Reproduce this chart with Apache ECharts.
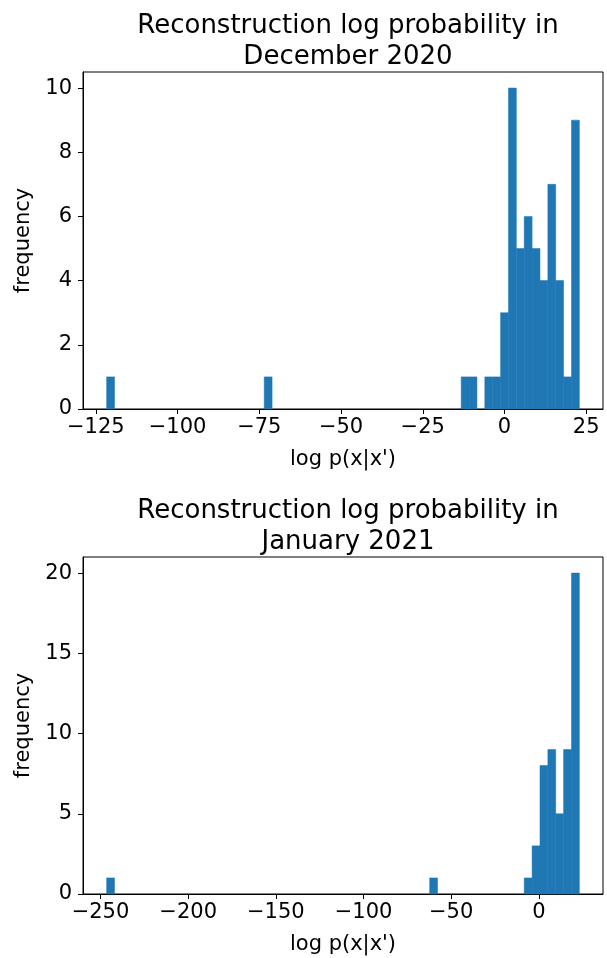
<!DOCTYPE html>
<html>
<head>
<meta charset="utf-8">
<script src="https://cdn.jsdelivr.net/npm/echarts@6/dist/echarts.min.js"></script>
<style>
html,body{margin:0;padding:0;background:#fff;}
#chart{width:607px;height:958px;}
</style>
</head>
<body>
<div id="chart"></div>
<script>
// ---- Data ----
// December 2020 histogram: 60 equal bins between decMin and decMax
const decMin = -121.7;
const decMax = 22.9;
const decCounts = [
  1,0,0,0,0,0,0,0,0,0,
  0,0,0,0,0,0,0,0,0,0,
  1,0,0,0,0,0,0,0,0,0,
  0,0,0,0,0,0,0,0,0,0,
  0,0,0,0,0,1,1,0,1,1,
  3,10,5,6,5,4,7,4,1,9
];
// January 2021 histogram: 60 equal bins between janMin and janMax
const janMin = -246.5;
const janMax = 23.1;
const janCounts = [
  1,0,0,0,0,0,0,0,0,0,
  0,0,0,0,0,0,0,0,0,0,
  0,0,0,0,0,0,0,0,0,0,
  0,0,0,0,0,0,0,0,0,0,
  0,1,0,0,0,0,0,0,0,0,
  0,0,0,1,3,8,9,5,9,20
];

const decXTicks = [-125, -100, -75, -50, -25, 0, 25];
const decYTicks = [0, 2, 4, 6, 8, 10];
const janXTicks = [-250, -200, -150, -100, -50, 0];
const janYTicks = [0, 5, 10, 15, 20];

const titles = ['Reconstruction log probability in\nDecember 2020',
                'Reconstruction log probability in\nJanuary 2021'];
const xName = "log p(x|x')";
const yName = 'frequency';

// ---- build histogram rectangles (bin edges from min/max, counts from data) ----
function bins(min, max, counts) {
  const n = counts.length, w = (max - min) / n, out = [];
  counts.forEach((c, i) => { if (c > 0) out.push([min + i * w, min + (i + 1) * w, c]); });
  return out;
}
function lim(min, max) { const r = max - min; return [min - 0.05 * r, max + 0.05 * r]; }
const decLim = lim(decMin, decMax);
const janLim = lim(janMin, janMax);
const decYMax = Math.max(...decCounts) * 1.05;
const janYMax = Math.max(...janCounts) * 1.05;

const FONT = 'DejaVu Sans';
const TICK_FS = 21;
const NAME_FS = 21;
const TITLE_FS = 26;
const fmt = v => v < 0 ? '\u2212' + Math.abs(v) : String(v);

function xAxis(gi, l, ticks) {
  return {
    type: 'value', gridIndex: gi, min: l[0], max: l[1],
    name: xName, nameLocation: 'middle', nameGap: 40,
    nameTextStyle: { fontFamily: FONT, fontSize: NAME_FS, color: '#000' },
    axisLine: { show: true, onZero: false, lineStyle: { color: '#000', width: 1 } },
    axisTick: { show: true, length: 5, customValues: ticks, lineStyle: { color: '#000' } },
    axisLabel: { customValues: ticks, formatter: fmt, fontFamily: FONT, fontSize: TICK_FS, color: '#000', margin: 8 },
    splitLine: { show: false }
  };
}
function yAxis(gi, maxv, ticks) {
  return {
    type: 'value', gridIndex: gi, min: 0, max: maxv,
    name: yName, nameLocation: 'middle', nameGap: 43, nameRotate: 90,
    nameTextStyle: { fontFamily: FONT, fontSize: NAME_FS, color: '#000' },
    axisLine: { show: true, onZero: false, lineStyle: { color: '#000', width: 1 } },
    axisTick: { show: true, length: 5, customValues: ticks, lineStyle: { color: '#000' } },
    axisLabel: { customValues: ticks, formatter: fmt, fontFamily: FONT, fontSize: TICK_FS, color: '#000', margin: 11 },
    splitLine: { show: false }
  };
}
function histSeries(idx, data) {
  return {
    type: 'custom', xAxisIndex: idx, yAxisIndex: idx,
    data: data,
    renderItem: function (params, api) {
      const p0 = api.coord([api.value(0), api.value(2)]);
      const p1 = api.coord([api.value(1), 0]);
      return {
        type: 'rect',
        shape: { x: p0[0], y: p0[1], width: p1[0] - p0[0], height: p1[1] - p0[1] },
        style: { fill: '#1f77b4', stroke: '#1f77b4', lineWidth: 0.5 }
      };
    },
    encode: { x: [0, 1], y: 2 }
  };
}

const chart = echarts.init(document.getElementById('chart'), null, { renderer: 'canvas' });
chart.setOption({
  backgroundColor: '#fff',
  animation: false,
  title: [
    { text: titles[0], left: 343, top: 6, textAlign: 'center',
      textStyle: { fontFamily: FONT, fontSize: TITLE_FS, fontWeight: 'normal', color: '#000', lineHeight: 31 } },
    { text: titles[1], left: 343, top: 491, textAlign: 'center',
      textStyle: { fontFamily: FONT, fontSize: TITLE_FS, fontWeight: 'normal', color: '#000', lineHeight: 31 } }
  ],
  grid: [
    { left: 83, top: 72, width: 520, height: 337, show: true, borderColor: '#000', borderWidth: 1, containLabel: false },
    { left: 83, top: 557, width: 520, height: 337, show: true, borderColor: '#000', borderWidth: 1, containLabel: false }
  ],
  xAxis: [xAxis(0, decLim, decXTicks), xAxis(1, janLim, janXTicks)],
  yAxis: [yAxis(0, decYMax, decYTicks), yAxis(1, janYMax, janYTicks)],
  series: [histSeries(0, bins(decMin, decMax, decCounts)), histSeries(1, bins(janMin, janMax, janCounts))]
});
</script>
</body>
</html>
